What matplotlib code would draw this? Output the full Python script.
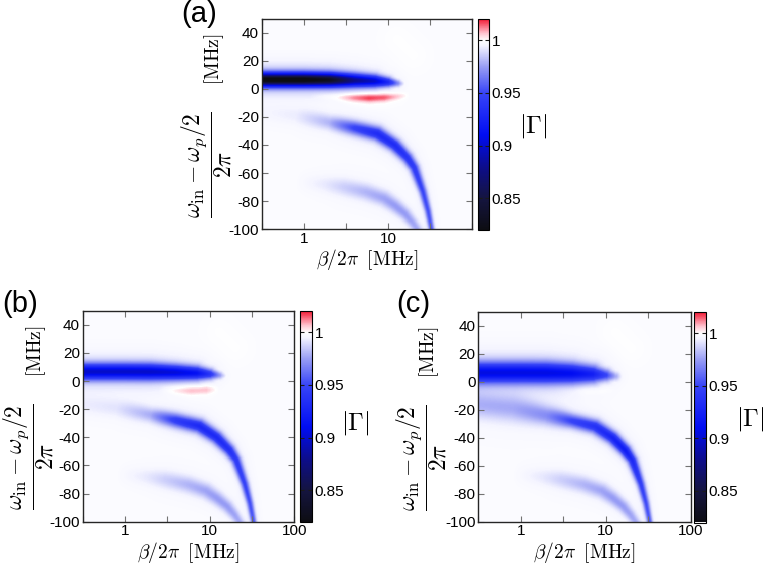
import numpy as np
import matplotlib
matplotlib.use('Agg')
import matplotlib.pyplot as plt
from matplotlib.colors import LinearSegmentedColormap

plt.rcParams['font.family'] = ['Liberation Sans', 'DejaVu Sans']
plt.rcParams['mathtext.fontset'] = 'cm'
plt.rcParams['axes.unicode_minus'] = False

#############################################
# values

# axis ranges and ticks
beta_min, beta_max = 10 ** -0.5, 100.0
det_min, det_max = -100.0, 50.0
x_ticks = [10 ** -0.5, 1, 10 ** 0.5, 10, 10 ** 1.5, 100]
x_labels_a = ['', '1', '', '10', '', '']
x_labels_bc = ['', '1', '', '10', '', '100']
y_ticks = [-100, -80, -60, -40, -20, 0, 20, 40]
y_labels = ['-100', '-80', '-60', '-40', '-20', '0', '20', '40']
cb_ticks = [0.85, 0.9, 0.95, 1.0]
cb_labels = ['0.85', '0.9', '0.95', '1']
gamma_min, gamma_max = 0.82, 1.02
background = 0.998

# upper dip (horizontal band near +6 MHz)
upper_beta = [0.25, 1.0, 2.0, 4.0, 7.0, 10.0, 13.0, 16.0]
upper_det = [6.5, 6.5, 6.4, 6.0, 5.5, 4.8, 4.0, 3.5]
upper_depth_a = [0.185, 0.185, 0.17, 0.12, 0.10, 0.07, 0.03, 0.0]
upper_depth_b = [0.10, 0.10, 0.10, 0.095, 0.085, 0.06, 0.025, 0.0]
upper_depth_c = [0.092, 0.092, 0.092, 0.088, 0.075, 0.05, 0.02, 0.0]
upper_width_a = [4.5, 4.5, 4.5, 4.4, 4.0, 3.2, 2.4, 1.5]
upper_width_b = [5.5, 5.5, 5.5, 5.0, 4.5, 3.5, 2.5, 1.5]
upper_width_c = [7.0, 7.0, 7.0, 6.5, 5.5, 4.0, 3.0, 2.0]

# red peak (|Gamma| > 1) just below zero
peak_beta = [1.2, 2.5, 4.0, 6.0, 9.0, 13.0, 18.0]
peak_det = [-5.0, -5.8, -6.3, -6.5, -6.2, -5.5, -4.5]
peak_height_a = [0.0, 0.006, 0.016, 0.021, 0.018, 0.008, 0.0]
peak_height_b = [0.0, 0.0, 0.007, 0.011, 0.010, 0.0, 0.0]
peak_height_c = [0.0, 0.0, 0.002, 0.004, 0.003, 0.0, 0.0]
peak_width = [2.0, 2.5, 2.8, 3.0, 2.8, 2.3, 1.8]

# very faint pink patch in the upper right
faint_beta = [9.0, 13.0, 20.0, 28.0]
faint_det = [44.0, 35.0, 24.0, 14.0]
faint_height = [0.0, 0.0015, 0.0015, 0.0]
faint_width = [8.0, 8.0, 8.0, 8.0]

# middle dip (bends down to -100 near 33 MHz)
mid_beta = [0.25, 0.8, 2.0, 4.0, 7.5, 12.0, 17.0, 20.5, 26.0, 30.0, 33.0, 35.0]
mid_det = [-16, -19, -24, -28, -32, -40, -49, -56, -73, -87, -100, -110]
mid_depth_a = [0.002, 0.005, 0.018, 0.05, 0.066, 0.066, 0.06, 0.055, 0.048, 0.045, 0.042, 0.04]
mid_depth_b = [0.004, 0.007, 0.02, 0.055, 0.068, 0.068, 0.064, 0.056, 0.05, 0.045, 0.042, 0.04]
mid_depth_c = [0.018, 0.02, 0.028, 0.05, 0.062, 0.072, 0.078, 0.068, 0.052, 0.046, 0.042, 0.04]
mid_width_ab = [7.0, 6.5, 5.0, 4.6, 4.4, 4.0, 3.6, 3.2, 2.6, 2.2, 1.9, 1.9]
mid_width_c = [9, 9, 6.5, 4.6, 4.4, 4.0, 3.6, 3.2, 2.6, 2.2, 1.9, 1.9]

# lower dip (faint, near -70 MHz)
low_beta = [0.8, 1.8, 3.0, 5.5, 9.0, 12.0, 16.0, 19.5, 23.0, 26.0]
low_det = [-66, -68, -70, -73.5, -78, -83, -89, -95, -101, -108]
low_depth = [0.0, 0.006, 0.012, 0.018, 0.022, 0.024, 0.024, 0.022, 0.02, 0.02]
low_width = [6, 6, 6, 5.5, 5, 4.5, 4, 3.5, 3, 3]

#############################################

def to_unit(beta, det):
    u = (np.log10(beta) - np.log10(beta_min)) / (np.log10(beta_max) - np.log10(beta_min))
    v = (np.asarray(det, float) - det_min) / (det_max - det_min)
    return u, v

def ridge(U, V, beta, det, amp, width):
    # tube around a polyline, amplitude and width vary along it
    u, v = to_unit(np.asarray(beta, float), det)
    amp = np.asarray(amp, float)
    w = np.asarray(width, float) / (det_max - det_min)
    out = np.zeros_like(U)
    for i in range(len(u) - 1):
        du, dv = u[i + 1] - u[i], v[i + 1] - v[i]
        t = ((U - u[i]) * du + (V - v[i]) * dv) / (du * du + dv * dv)
        t = np.clip(t, 0, 1)
        r = np.hypot(U - (u[i] + t * du), V - (v[i] + t * dv))
        a = amp[i] + t * (amp[i + 1] - amp[i])
        s = w[i] + t * (w[i + 1] - w[i])
        val = a * (0.88 * np.exp(-(r / s) ** 2) + 0.12 * np.exp(-(r / (2.2 * s)) ** 2))
        out = np.maximum(out, val)
    return out

n = 420
uu = np.linspace(0, 1, n)
vv = np.linspace(0, 1, n)
U, V = np.meshgrid(uu, vv)
X = 10 ** (np.log10(beta_min) + uu * (np.log10(beta_max) - np.log10(beta_min)))
Y = det_min + vv * (det_max - det_min)

def field(up_d, up_w, pk_h, md_d, md_w):
    z = np.full_like(U, background)
    z -= ridge(U, V, upper_beta, upper_det, up_d, up_w)
    z -= ridge(U, V, mid_beta, mid_det, md_d, md_w)
    z -= ridge(U, V, low_beta, low_det, low_depth, low_width)
    z += ridge(U, V, peak_beta, peak_det, pk_h, peak_width)
    z += ridge(U, V, faint_beta, faint_det, faint_height, faint_width)
    return z

Z_a = field(upper_depth_a, upper_width_a, peak_height_a, mid_depth_a, mid_width_ab)
Z_b = field(upper_depth_b, upper_width_b, peak_height_b, mid_depth_b, mid_width_ab)
Z_c = field(upper_depth_c, upper_width_c, peak_height_c, mid_depth_c, mid_width_c)

nodes = [(0.82, (0.05, 0.05, 0.07)),
         (0.85, (0.08, 0.08, 0.25)),
         (0.88, (0.05, 0.05, 0.55)),
         (0.91, (0.0, 0.05, 0.95)),
         (0.95, (0.22, 0.27, 0.97)),
         (0.975, (0.6, 0.62, 0.96)),
         (0.995, (0.96, 0.96, 1.0)),
         (1.0, (1.0, 1.0, 1.0)),
         (1.007, (1.0, 0.75, 0.8)),
         (1.02, (0.95, 0.1, 0.2))]
cmap = LinearSegmentedColormap.from_list(
    'gamma', [((v - gamma_min) / (gamma_max - gamma_min), c) for v, c in nodes], N=512)

fig = plt.figure(figsize=(7.63, 5.70), dpi=100)

W, H = 763.0, 570.0
def box(l, t, r, b):
    return [l / W, 1 - b / H, (r - l) / W, (b - t) / H]

panels = [
    ('(a)', Z_a, box(261.7, 18.5, 472.0, 229.3), box(477.7, 19.0, 488.7, 230.0),
     x_labels_a, (181, 0), (533, 126), -0.262),
    ('(b)', Z_b, box(82.7, 310.7, 294.3, 521.7), box(300.0, 311.0, 311.7, 522.0),
     x_labels_bc, (2, 290), (355, 423), -0.255),
    ('(c)', Z_c, box(478.3, 311.7, 690.7, 521.7), box(694.0, 312.0, 705.7, 522.5),
     x_labels_bc, (396, 290), (750, 419), -0.268),
]

for name, Z, ax_box, cb_box, xlab, name_pos, g_pos, ylab_x in panels:
    ax = fig.add_axes(ax_box)
    mesh = ax.pcolormesh(X, Y, Z, cmap=cmap, vmin=gamma_min, vmax=gamma_max,
                         shading='auto', rasterized=True)
    ax.set_xscale('log')
    ax.set_xlim(beta_min, beta_max)
    ax.set_ylim(det_min, det_max)
    ax.set_xticks(x_ticks)
    ax.set_xticklabels(xlab)
    ax.xaxis.set_minor_locator(matplotlib.ticker.NullLocator())
    ax.set_yticks(y_ticks)
    ax.set_yticklabels(y_labels)
    ax.tick_params(direction='in', top=True, right=True, length=4, width=0.8,
                   color='0.45', labelsize=11, pad=2)
    for sp in ax.spines.values():
        sp.set_linewidth(1.0)
        sp.set_color('0.15')
    ax.set_xlabel(r'$\beta/2\pi\;\;\mathrm{[MHz]}$', fontsize=14, labelpad=1)
    # y label: large fraction plus unit, both rotated
    ax.text(ylab_x, 0.307, r'$\dfrac{\omega_{\mathrm{in}}-\omega_p/2}{2\pi}$',
            fontsize=17, rotation=90, ha='center', va='center', transform=ax.transAxes)
    ax.text(ylab_x + 0.035, 0.808, r'$\mathrm{[MHz]}$', fontsize=14, rotation=90,
            ha='center', va='center', transform=ax.transAxes)

    cax = fig.add_axes(cb_box)
    cb = fig.colorbar(mesh, cax=cax, ticks=cb_ticks)
    cb.ax.set_yticklabels(cb_labels)
    cb.ax.tick_params(direction='in', left=True, right=True, length=3, width=0.8,
                      color='0.1', labelsize=11, pad=2)
    cb.outline.set_linewidth(0.8)

    fig.text(name_pos[0] / W, 1 - name_pos[1] / H, name, fontsize=21, ha='left', va='top')
    fig.text(g_pos[0] / W, 1 - g_pos[1] / H, r'$|\Gamma|$', fontsize=18,
             ha='center', va='center')

fig.savefig('out.png', dpi=100)
